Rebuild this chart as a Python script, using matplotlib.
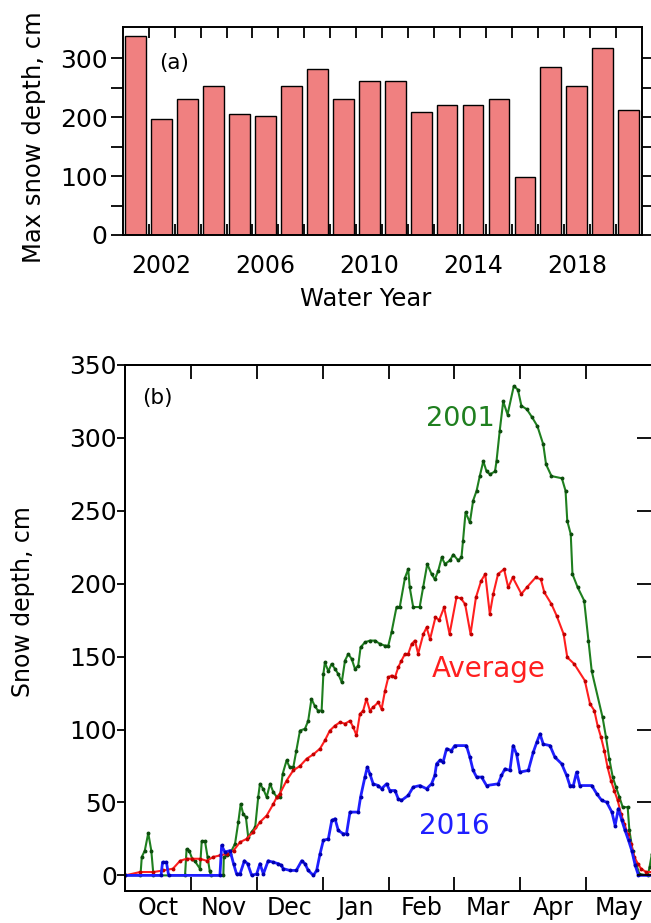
"""
 Snow depth plots: yearly maximum and daily depth through the water year
"""
import numpy as np
import matplotlib.pyplot as plt

plt.rcParams['font.family'] = ['DejaVu Sans']

# panel (a): max snow depth per water year
years = list(range(2001, 2021))
max_depth = [337, 196, 230, 253, 205, 202, 253, 281, 230, 262,
             262, 208, 221, 221, 230, 98, 285, 253, 317, 212]
year_labels = [2002, 2006, 2010, 2014, 2018]

# panel (b): daily snow depth, x = days since Oct 1
months = ['Oct', 'Nov', 'Dec', 'Jan', 'Feb', 'Mar', 'Apr', 'May']

days_2001 = [0, 7, 7.6, 9, 10.6, 12, 13, 27.6, 28.3, 29.5, 31, 32, 34.5, 35.3,
             36.8, 38, 39, 39.5, 45.3, 45.5, 47, 48.4, 50.7, 52.2, 53.3, 54.5,
             55.7, 56.8, 58.4, 60, 61.4, 62.2, 63.8, 65.3, 66.9, 68.4, 70, 71.4,
             72.7, 74.5, 76, 77.6, 79, 80.7, 83, 84.5, 86, 87.6, 89, 90.7, 91.5,
             92.2, 93.8, 95.3, 96.9, 98.4, 100, 101.5, 103, 104.6, 106.1, 107.6,
             108.7, 110.7, 113, 115.3, 117.7, 120, 121.5, 123, 125.3, 126.8,
             129.2, 130.7, 131.4, 133, 136, 137.6, 139.5, 141.5, 143, 144.6,
             146.2, 147.7, 150, 151.5, 153.8, 155.3, 156, 157.2, 159.2, 160.7,
             162.3, 163.8, 165.4, 166.9, 168.5, 170.8, 171.5, 173, 174.6, 176.6,
             179.5, 181.4, 183, 185.5, 188, 190.4, 193.1, 194.4, 196.9, 201.7,
             203.4, 204.2, 205.8, 206.6, 209, 212, 214, 215.5, 220.5, 222.1,
             223.6, 225.2, 226.7, 228.3, 229.8, 232.1, 232.9, 234.4, 236, 237.5,
             241.4, 242.2, 243.3]
depth_2001 = [0, 0, 12.6, 17, 29, 17, 0, 0, 18, 17, 11, 10, 4.6, 23.5,
              23.5, 12.6, 3, 0, 0, 12.6, 14, 15, 21.7, 36.5, 49, 42,
              40, 26, 30, 33, 53.7, 62.8, 59, 53.7, 62.8, 57, 53.7, 53.7,
              69.6, 78.8, 74, 74, 85.6, 99.3, 100.5, 106, 121, 116, 113, 113, 138,
              146, 140, 145, 141.6, 138, 132.4, 147.3, 151.8, 148.4, 141.6, 143.8,
              156.4, 159.8, 161, 161, 158.7, 157.5, 157.5, 166.7, 184, 184,
              204, 210, 197.5, 184, 184, 197.5, 213.5, 206.6, 203, 209,
              218, 213.5, 216, 220, 216, 218, 229, 249, 242, 257,
              263.7, 274, 284, 277, 275, 277, 284, 305, 325, 316,
              335.6, 333, 322, 319.6, 314, 308, 295.5, 281.8, 273.8, 272.3,
              263.7, 243, 234, 206.6, 197.5, 188.4, 161, 140, 108.4, 94.7,
              80, 67.4, 60.5, 53.7, 46.8, 46.8, 30.8, 17, 8, 1,
              0, 5.7, 14.8]

days_avg = [0, 6.8, 13, 17.6, 22, 25.3, 28.3, 31, 34.5, 37.6, 40.6, 43.7, 46.8,
            50, 53, 56, 59, 62.2, 65.3, 68.4, 70, 71.4, 74.5, 77.6, 80.7, 83.8,
            86.9, 90, 92.2, 94.5, 96.9, 99.2, 101.5, 103.8, 105.3, 106.8, 108.4,
            109.9, 111.4, 113, 114.5, 116.9, 118.4, 120, 121.5, 123, 124.6,
            126.1, 127.6, 129.2, 130.7, 132.3, 133.8, 135.3, 137.7, 139.2, 140.8,
            143.3, 145, 147.3, 149.8, 153, 155, 157, 159.5, 162, 164.4, 166.3,
            168.4, 170, 172.2, 175, 176.9, 179, 183, 185.5, 189.6, 192, 193.6,
            196.9, 199.3, 202.5, 204.2, 207.4, 212.3, 214.7, 216.7, 218.2, 219.8,
            221.3, 222.8, 224.4, 225.9, 227.5, 229, 230.6, 232.1, 233.7, 235.2,
            236.8, 238.3, 240.6, 243.3]
depth_avg = [0, 2.3, 2.3, 3.4, 4.6, 10, 11.4, 11.4, 11.4, 10, 12.6, 13.7, 14.8,
             17, 22.8, 25, 29.7, 36.5, 41, 49, 53.7, 56, 65, 72, 75, 80,
             83, 87, 92.5, 99.3, 102.7, 105, 104, 106, 101.6, 96, 110.7,
             113, 121, 113, 115.3, 118.7, 114, 126.7, 135.8, 137, 135.8,
             142.7, 147.3, 151.8, 151.8, 158.7, 161, 152, 165.5, 170, 162,
             177, 175, 183.8, 165.5, 190.6, 190, 186, 165.5, 190.6, 202, 206.6,
             179.2, 193, 206.6, 210, 197.5, 204.3, 193, 197.5, 204.3, 203, 194,
             186, 178, 165.5, 149.5, 145, 133.6, 117.6, 113, 102.7, 94.7,
             85.6, 74.2, 65, 58.2, 51.4, 42.3, 35.4, 28.5, 21.7, 12.6,
             8, 4.6, 2.3, 2.3]

days_2016 = [0, 16.5, 17.2, 19, 20, 43.7, 44.5, 46, 48.4, 50, 51.4, 53, 55, 56.5,
             58.4, 60.7, 62.2, 63.8, 66, 68.4, 70.7, 72, 73, 76, 79, 81.5, 83,
             84.5, 86.9, 88.4, 90, 91.5, 93.8, 95.4, 96.9, 98.4, 100.7, 102.2,
             103.8, 107.6, 108.7, 110.7, 111.8, 113, 114.5, 116.9, 118.4, 120.7,
             122.2, 124.6, 126.1, 127.6, 130.7, 133, 136.1, 139.2, 141.5, 143,
             143.8, 145.3, 146.8, 148.4, 150.7, 152.2, 157.6, 159.2, 160.7, 162.3,
             164.6, 166.9, 172.3, 173.8, 175.4, 177.7, 179.2, 180.8, 182.3, 186.2,
             188.5, 190.1, 191.6, 193.1, 196.2, 198.5, 201.6, 203.9, 205.4, 207,
             208.5, 210, 215.5, 217.8, 220.1, 222.4, 224.8, 226.3, 227.8, 229.4,
             230.9, 232.5, 234, 235.6, 237.1, 243.3]
depth_2016 = [0, 0, 9, 9, 0, 0, 20.5, 16, 17, 8, 1, 1, 10, 8,
              0, 1, 8, 1, 10, 9, 8, 7, 4.6, 3.4, 3.4, 10, 8,
              3.4, 0, 3.4, 15, 24, 25, 37.7, 38.8, 30.8, 28.5, 28.5,
              43.4, 43.4, 53.7, 67.4, 74.2, 69.6, 62.8, 61.6, 59.4, 62.8,
              58.2, 58.2, 52.5, 51.4, 54.8, 60.5, 61.6, 59.4, 62.8, 68.5,
              76.5, 78.8, 77.6, 86.8, 85.6, 89, 89, 81, 72, 67.4,
              67.4, 61.6, 62.8, 68.5, 73, 72, 89, 83, 70.8, 72,
              84.5, 91.3, 97, 90, 89, 81, 76.5, 68.5, 61.6, 61.6,
              70.8, 61.6, 61.6, 56, 51.4, 50.2, 43.4, 34.2, 45.7, 37.7,
              30.8, 24, 17, 6.8, 0, 0]

MONTH = 365.0 / 12
GREEN = '#1f7f1f'
RED = '#ff1f1f'
BLUE = '#1f1fff'


def draw_max_depth(ax):
    """ bar chart of the yearly maximum """
    ax.bar(years, max_depth, width=0.8, color='#f08080', edgecolor='black',
           linewidth=1.0)
    ax.set_xlim(2000.5, 2020.5)
    ax.set_ylim(0, 353)
    ax.set_xticks(year_labels)
    ax.set_xticks(np.arange(2001.5, 2020.5, 1.0), minor=True)
    ax.set_yticks([0, 100, 200, 300])
    ax.set_yticks([50, 150, 250], minor=True)
    ax.tick_params(axis='x', which='major', length=0, pad=14, labelsize=17)
    ax.tick_params(axis='x', which='minor', direction='in', length=8,
                   width=1.3, top=True, bottom=True)
    ax.tick_params(axis='y', which='both', direction='out', length=9,
                   width=1.3, left=True, right=True, labelsize=18, pad=2)
    ax.set_ylabel('Max snow depth, cm', fontsize=17.5)
    ax.yaxis.set_label_coords(-0.148, 0.47)
    ax.set_xlabel('Water Year', fontsize=17.5)
    ax.xaxis.set_label_coords(0.469, -0.25)
    ax.text(2002.48, 291, '(a)', fontsize=15.5, ha='center', va='center')
    for s in ax.spines.values():
        s.set_linewidth(1.4)


def draw_daily_depth(ax):
    """ line plot of daily snow depth """
    ax.plot(days_2001, depth_2001, color=GREEN, lw=1.5, marker='o', ms=1.8,
            mfc='#0d4d0d', mec='#0d4d0d')
    ax.plot(days_avg, depth_avg, color=RED, lw=1.5, marker='o', ms=1.8,
            mfc='#c00000', mec='#c00000')
    ax.plot(days_2016, depth_2016, color=BLUE, lw=2.0, marker='o', ms=1.8,
            mfc='#0000b0', mec='#0000b0')
    ax.set_xlim(0, 8 * MONTH)
    ax.set_ylim(-10.5, 350)
    ax.set_xticks(np.arange(1, 8) * MONTH)
    ax.set_xticks((np.arange(8) + 0.5) * MONTH, minor=True)
    ax.set_xticklabels([])
    ax.set_xticklabels(months, minor=True)
    ax.set_yticks(np.arange(0, 351, 50))
    ax.tick_params(axis='x', which='major', direction='in', length=10,
                   width=1.3, top=True, bottom=True)
    ax.tick_params(axis='x', which='minor', length=0, pad=4, labelsize=17)
    ax.tick_params(axis='y', direction='out', length=6, width=1.3,
                   labelsize=18, pad=0)
    # inward ticks on the right side
    ax2 = ax.twinx()
    ax2.set_ylim(ax.get_ylim())
    ax2.set_yticks(np.arange(0, 351, 50))
    ax2.tick_params(axis='y', direction='in', length=11, width=1.3,
                    labelright=False)
    ax.set_ylabel('Snow depth, cm', fontsize=17)
    ax.yaxis.set_label_coords(-0.171, 0.55)
    ax.text(14.6, 327, '(b)', fontsize=15.5, ha='center', va='center')
    ax.text(155, 313, '2001', color=GREEN, fontsize=19.5, ha='center',
            va='center')
    ax.text(168, 141.8, 'Average', color=RED, fontsize=20, ha='center',
            va='center')
    ax.text(151.8, 34, '2016', color=BLUE, fontsize=20, ha='center',
            va='center')
    for s in list(ax.spines.values()) + list(ax2.spines.values()):
        s.set_linewidth(1.4)


fig = plt.figure(figsize=(6.51, 9.23), dpi=100)
ax_a = fig.add_axes([0.1885, 0.7454, 0.7972, 0.2254])
ax_b = fig.add_axes([0.1925, 0.035, 0.809, 0.5696])
draw_max_depth(ax_a)
draw_daily_depth(ax_b)
fig.savefig('out.png', dpi=100)
